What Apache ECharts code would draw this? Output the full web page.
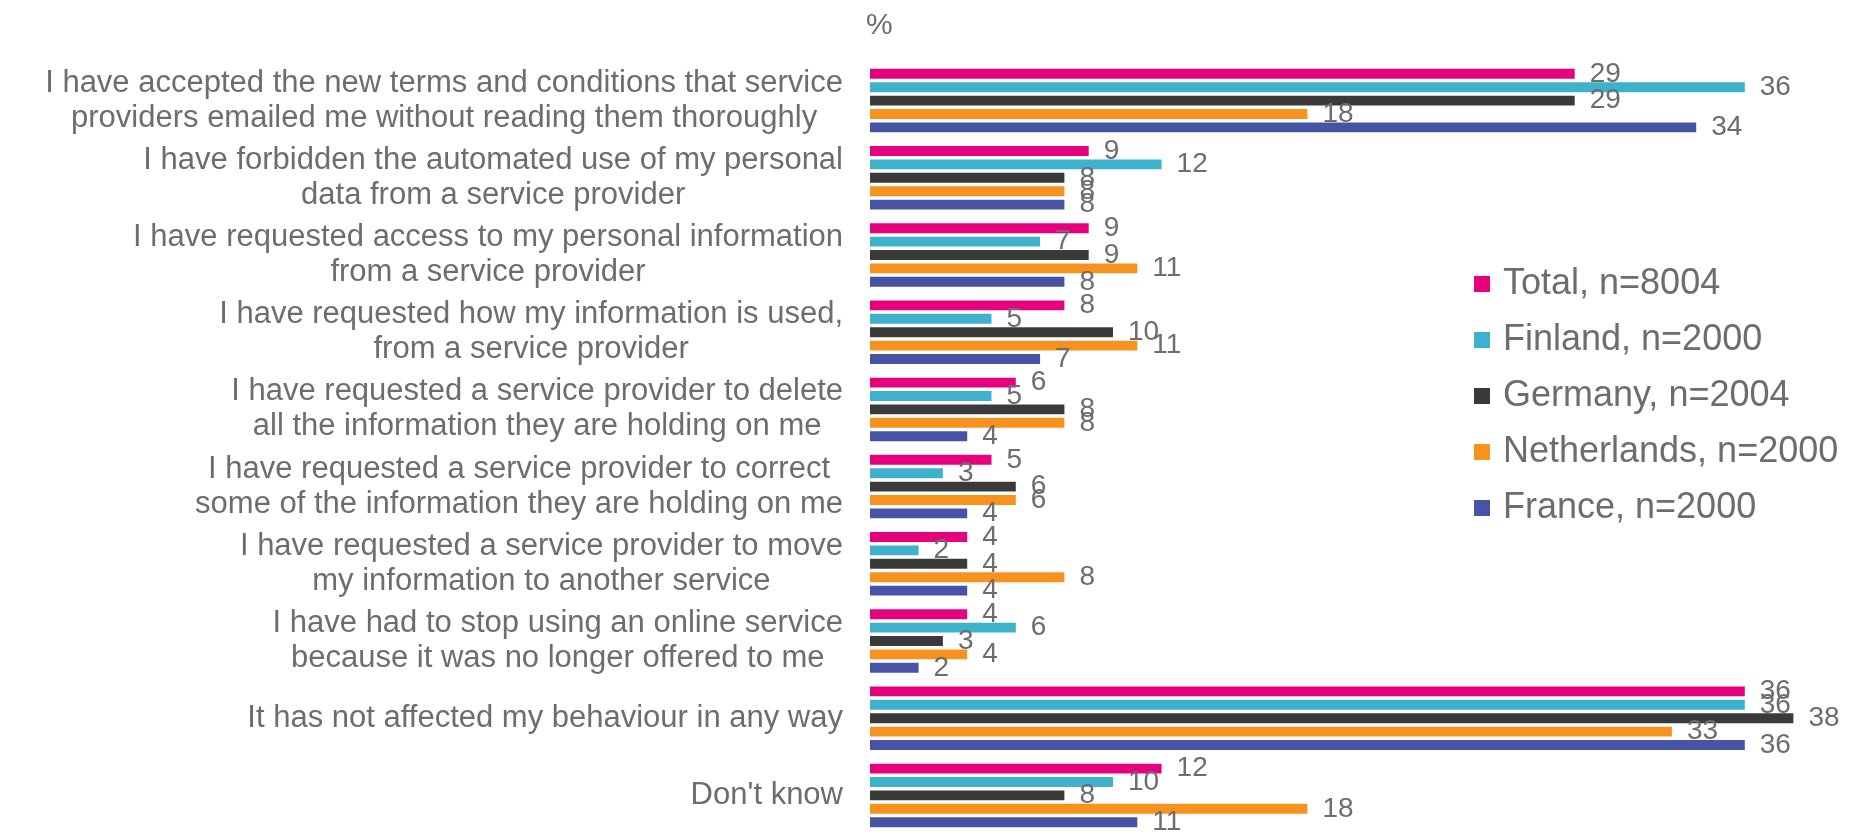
<!DOCTYPE html>
<html>
<head>
<meta charset="utf-8">
<script src="https://cdn.jsdelivr.net/npm/echarts@6/dist/echarts.min.js"></script>
<style>
  html, body { margin: 0; padding: 0; background: #fff; }
  #chart { width: 1852px; height: 834px; }
</style>
</head>
<body>
<div id="chart"></div>
<script>
var categories = [
    "I have accepted the new terms and conditions that service\nproviders emailed me without reading them thoroughly",
    "I have forbidden the automated use of my personal\ndata from a service provider",
    "I have requested access to my personal information\nfrom a service provider",
    "I have requested how my information is used,\nfrom a service provider",
    "I have requested a service provider to delete\nall the information they are holding on me",
    "I have requested a service provider to correct\nsome of the information they are holding on me",
    "I have requested a service provider to move\nmy information to another service",
    "I have had to stop using an online service\nbecause it was no longer offered to me",
    "It has not affected my behaviour in any way",
    "Don't know"
];
var seriesNames = ["Total, n=8004", "Finland, n=2000", "Germany, n=2004", "Netherlands, n=2000", "France, n=2000"];
var total       = [29, 9, 9, 8, 6, 5, 4, 4, 36, 12];
var finland     = [36, 12, 7, 5, 5, 3, 2, 6, 36, 10];
var germany     = [29, 8, 9, 10, 8, 6, 4, 3, 38, 8];
var netherlands = [18, 8, 11, 11, 8, 6, 8, 4, 33, 18];
var france      = [34, 8, 8, 7, 4, 4, 4, 2, 36, 11];
var colors = ["#e6007e", "#3eb1cc", "#3a3a3a", "#f7921e", "#4753a5"];

var chart = echarts.init(document.getElementById("chart"));
var font = "'Liberation Sans', Arial, sans-serif";
var grey = "#6d6d6d";

function makeSeries(name, data, color) {
    return {
        name: name,
        type: "bar",
        data: data,
        barGap: "35%",
        barCategoryGap: "17.7%",
        itemStyle: { color: color },
        label: {
            show: true,
            position: "right",
            distance: 15,
            color: grey,
            fontSize: 28,
            fontFamily: font
        },
        emphasis: { disabled: true }
    };
}

var option = {
    animation: false,
    title: {
        text: "%",
        left: 861,
        top: 6,
        textStyle: { color: grey, fontSize: 30, fontWeight: "normal", fontFamily: font }
    },
    legend: {
        orient: "vertical",
        left: 1469,
        top: 259,
        itemWidth: 16,
        itemHeight: 16,
        itemGap: 16,
        icon: "rect",
        data: seriesNames,
        textStyle: { color: grey, fontSize: 36, lineHeight: 40, fontFamily: font, padding: [0, 0, 0, 8] }
    },
    grid: {
        left: 870,
        top: 62,
        width: 972,
        height: 778,
        containLabel: false
    },
    xAxis: {
        type: "value",
        min: 0,
        max: 40,
        show: false
    },
    yAxis: {
        type: "category",
        inverse: true,
        data: categories,
        axisLine: { show: false },
        axisTick: { show: false },
        splitLine: { show: false },
        axisLabel: {
            margin: 27,
            align: "right",
            formatter: function (v) {
                return v.split("\n").map(function (l) { return "{c|" + l + "}"; }).join("\n");
            },
            rich: {
                c: { align: "center", color: grey, fontSize: 31, lineHeight: 35, fontFamily: font }
            }
        }
    },
    series: [
        makeSeries(seriesNames[0], total, colors[0]),
        makeSeries(seriesNames[1], finland, colors[1]),
        makeSeries(seriesNames[2], germany, colors[2]),
        makeSeries(seriesNames[3], netherlands, colors[3]),
        makeSeries(seriesNames[4], france, colors[4])
    ]
};
chart.setOption(option);
window.addEventListener("resize", chart.resize);
</script>
</body>
</html>
